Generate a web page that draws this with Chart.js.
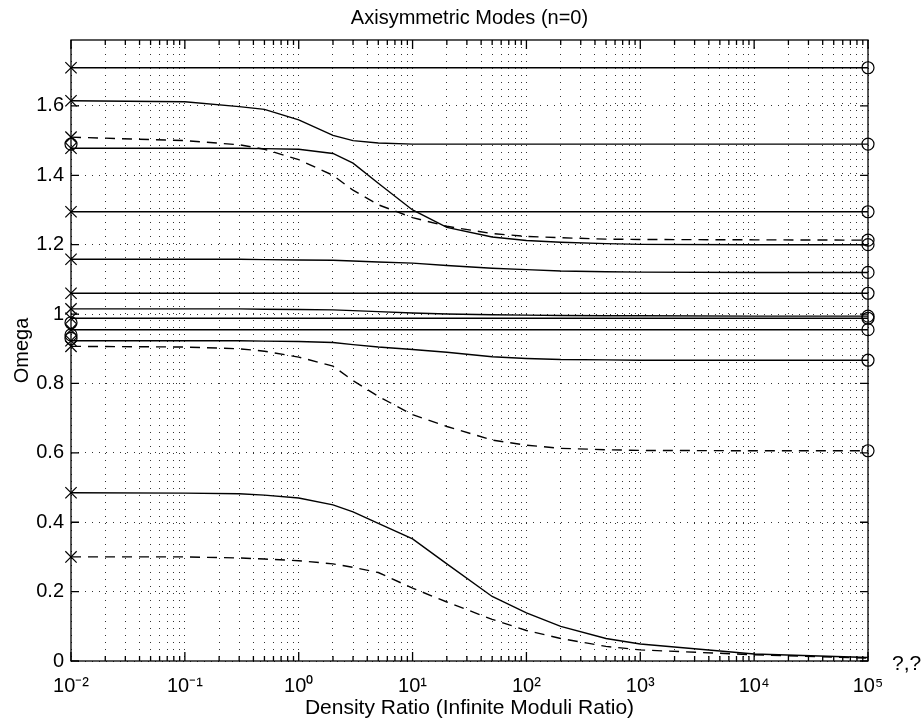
<!DOCTYPE html>
<html>
<head>
<meta charset="utf-8">
<script src="https://cdn.jsdelivr.net/npm/chart.js@4"></script>
<style>
  html, body { margin: 0; padding: 0; background: #fff; }
  #wrap { width: 923px; height: 722px; }
</style>
</head>
<body>
<div id="wrap"><canvas id="myChart"></canvas></div>
<script>
// density ratio samples (x) and omega values
const densityRatio = [0.01, 0.1, 0.3, 0.5, 1, 2, 3, 5, 10, 20, 50, 100, 200, 500, 1000, 10000, 100000];

const mode1  = [1.71, 1.71, 1.71, 1.71, 1.71, 1.71, 1.71, 1.71, 1.71, 1.71, 1.71, 1.71, 1.71, 1.71, 1.71, 1.71, 1.71];
const mode2  = [1.615, 1.612, 1.598, 1.59, 1.56, 1.515, 1.50, 1.493, 1.49, 1.49, 1.49, 1.49, 1.49, 1.49, 1.49, 1.49, 1.49];
const mode3  = [1.51, 1.50, 1.488, 1.475, 1.445, 1.40, 1.357, 1.315, 1.278, 1.253, 1.232, 1.224, 1.22, 1.216, 1.215, 1.214, 1.213];
const mode4  = [1.478, 1.478, 1.478, 1.477, 1.475, 1.463, 1.435, 1.377, 1.30, 1.25, 1.222, 1.212, 1.207, 1.203, 1.201, 1.20, 1.20];
const mode5  = [1.295, 1.295, 1.295, 1.295, 1.295, 1.295, 1.295, 1.295, 1.295, 1.295, 1.295, 1.295, 1.295, 1.295, 1.295, 1.295, 1.295];
const mode6  = [1.158, 1.158, 1.158, 1.157, 1.156, 1.155, 1.153, 1.15, 1.147, 1.14, 1.132, 1.128, 1.124, 1.122, 1.121, 1.12, 1.12];
const mode7  = [1.06, 1.06, 1.06, 1.06, 1.06, 1.06, 1.06, 1.06, 1.06, 1.06, 1.06, 1.06, 1.06, 1.06, 1.06, 1.06, 1.06];
const mode8  = [1.015, 1.015, 1.015, 1.014, 1.013, 1.012, 1.01, 1.007, 1.003, 1.0, 0.998, 0.997, 0.996, 0.995, 0.995, 0.994, 0.994];
const mode9  = [0.988, 0.988, 0.988, 0.988, 0.988, 0.988, 0.988, 0.988, 0.988, 0.988, 0.988, 0.988, 0.988, 0.988, 0.988, 0.988, 0.988];
const mode10 = [0.955, 0.955, 0.955, 0.955, 0.955, 0.955, 0.955, 0.955, 0.955, 0.955, 0.955, 0.955, 0.955, 0.955, 0.955, 0.955, 0.955];
const mode11 = [0.923, 0.923, 0.923, 0.922, 0.921, 0.918, 0.912, 0.905, 0.898, 0.89, 0.877, 0.872, 0.869, 0.868, 0.867, 0.867, 0.867];
const mode12 = [0.907, 0.905, 0.90, 0.893, 0.876, 0.85, 0.808, 0.763, 0.71, 0.676, 0.637, 0.622, 0.613, 0.609, 0.607, 0.606, 0.606];
const mode13 = [0.485, 0.484, 0.482, 0.478, 0.47, 0.45, 0.43, 0.397, 0.352, 0.28, 0.186, 0.139, 0.10, 0.065, 0.049, 0.02, 0.01];
const mode14 = [0.30, 0.30, 0.297, 0.294, 0.289, 0.28, 0.27, 0.255, 0.21, 0.17, 0.12, 0.088, 0.065, 0.042, 0.032, 0.018, 0.008];

// which curves are dashed, which get an 'o' at the right end
const dashedModes = [mode3, mode12, mode14];
const noEndCircle = [mode13, mode14];
const extraLeftCircles = [1.49, 0.975, 0.94, 0.93];

const xDecades = [0.01, 0.1, 1, 10, 100, 1000, 10000, 100000];
const xTickLabels = ['10\u207B\u00B2', '10\u207B\u00B9', '10\u2070', '10\u00B9', '10\u00B2', '10\u00B3', '10\u2074', '10\u2075'];
const yTicks = [0, 0.2, 0.4, 0.6, 0.8, 1.0, 1.2, 1.4, 1.6];
const cornerNote = '?,?';

const allModes = [mode1, mode2, mode3, mode4, mode5, mode6, mode7, mode8, mode9, mode10, mode11, mode12, mode13, mode14];

const xTickValues = [];
for (let d = 0; d < xDecades.length - 1; d++) {
    for (let m = 1; m <= 9; m++) xTickValues.push(m * xDecades[d]);
}
xTickValues.push(xDecades[xDecades.length - 1]);

function decadeIndex(v) {
    return xDecades.findIndex(d => Math.abs(Math.log10(v) - Math.log10(d)) < 1e-6);
}

const toPoints = vals => vals.map((v, i) => ({x: densityRatio[i], y: v}));
const xMin = densityRatio[0];
const xMax = densityRatio[densityRatio.length - 1];

const datasets = allModes.map(vals => ({
    type: 'line',
    data: toPoints(vals),
    borderColor: '#000',
    borderWidth: 1.4,
    borderDash: dashedModes.includes(vals) ? [10, 7] : [],
    pointRadius: 0,
    tension: 0,
    fill: false
}));

datasets.push({
    type: 'line',
    showLine: false,
    data: allModes.map(vals => ({x: xMin, y: vals[0]})),
    pointStyle: 'crossRot',
    pointRadius: 8,
    borderColor: '#000',
    borderWidth: 1.2,
    clip: false
});
datasets.push({
    type: 'line',
    showLine: false,
    data: allModes.filter(v => !noEndCircle.includes(v)).map(vals => ({x: xMax, y: vals[vals.length - 1]}))
        .concat(extraLeftCircles.map(v => ({x: xMin, y: v}))),
    pointStyle: 'circle',
    pointRadius: 6,
    backgroundColor: 'rgba(0,0,0,0)',
    borderColor: '#000',
    borderWidth: 1.2,
    clip: false
});

const framePlugin = {
    id: 'frame',
    afterDatasetsDraw(chart) {
        const {ctx, chartArea: {left, right, top, bottom}, scales: {x, y}} = chart;
        ctx.save();
        ctx.strokeStyle = '#000';
        ctx.lineWidth = 1.3;
        ctx.strokeRect(left, top, right - left, bottom - top);
        ctx.beginPath();
        x.ticks.forEach(t => {
            const px = x.getPixelForValue(t.value);
            const len = decadeIndex(t.value) >= 0 ? 9 : 5;
            ctx.moveTo(px, bottom); ctx.lineTo(px, bottom - len);
            ctx.moveTo(px, top); ctx.lineTo(px, top + len);
        });
        y.ticks.forEach(t => {
            const py = y.getPixelForValue(t.value);
            ctx.moveTo(left, py); ctx.lineTo(left + 8, py);
            ctx.moveTo(right, py); ctx.lineTo(right - 8, py);
        });
        ctx.stroke();
        ctx.font = '21px "Liberation Sans", Arial, sans-serif';
        ctx.fillStyle = '#000';
        ctx.textBaseline = 'alphabetic';
        ctx.fillText(cornerNote, 892, 670);
        ctx.restore();
    }
};

Chart.defaults.font.family = '"Liberation Sans", Arial, Helvetica, sans-serif';
Chart.defaults.color = '#000';

const ctx = document.getElementById('myChart').getContext('2d');
const myChart = new Chart(ctx, {
    type: 'line',
    data: { datasets: datasets },
    options: {
        responsive: true,
        maintainAspectRatio: false,
        animation: false,
        layout: { padding: { left: 0, right: 55, top: 0, bottom: 0 } },
        plugins: {
            legend: { display: false },
            tooltip: { enabled: false },
            title: {
                display: true,
                text: 'Axisymmetric Modes (n=0)',
                fullSize: false,
                color: '#000',
                font: { size: 20, weight: 'normal' },
                padding: { top: 6, bottom: 10 }
            }
        },
        scales: {
            x: {
                type: 'logarithmic',
                min: xMin,
                max: xMax,
                afterBuildTicks: scale => { scale.ticks = xTickValues.map(v => ({value: v})); },
                afterFit: scale => { scale.height = 61; scale.paddingLeft = 0; scale.paddingRight = 0; },
                grid: { color: 'rgba(0,0,0,0.8)', lineWidth: 1, drawTicks: false },
                border: { display: false, dash: [1, 6] },
                ticks: {
                    autoSkip: false,
                    maxRotation: 0,
                    padding: 13,
                    font: { size: 20 },
                    callback: function(value) {
                        const i = decadeIndex(value);
                        return i >= 0 ? xTickLabels[i] : '';
                    }
                },
                title: {
                    display: true,
                    text: 'Density Ratio (Infinite Moduli Ratio)',
                    font: { size: 21 },
                    padding: { top: 0, bottom: 1 }
                }
            },
            y: {
                type: 'linear',
                min: 0,
                max: 1.79,
                afterBuildTicks: scale => { scale.ticks = yTicks.map(v => ({value: v})); },
                afterFit: scale => { scale.width = 71; scale.paddingTop = 0; scale.paddingBottom = 0; },
                grid: { color: 'rgba(0,0,0,0.8)', lineWidth: 1, drawTicks: false },
                border: { display: false, dash: [1, 6] },
                ticks: {
                    padding: 7,
                    font: { size: 20 },
                    callback: function(value) {
                        return String(Math.round(value * 10) / 10);
                    }
                },
                title: {
                    display: true,
                    text: 'Omega',
                    font: { size: 20 },
                    padding: { top: 10, bottom: 0 }
                }
            }
        }
    },
    plugins: [framePlugin]
});
</script>
</body>
</html>
